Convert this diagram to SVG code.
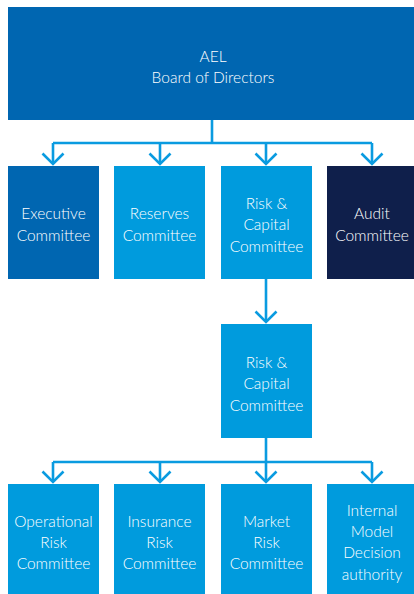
<svg xmlns="http://www.w3.org/2000/svg" width="414" height="594" viewBox="0 0 414 594">
  <defs>
    <style>
      .navy { fill: #0066b1; }
      .sky { fill: #009bdd; }
      .dark { fill: #0f1f4b; }
      .lbl { fill: #ffffff; font-family: Lato, "Open Sans", "Liberation Sans", sans-serif; font-weight: 300; font-size: 15.5px; text-anchor: middle; dominant-baseline: central; }
      .wire { fill: none; stroke: #0a9be0; stroke-width: 2.6; }
    </style>
    <!-- open chevron arrowhead; tip sits on the line end -->
    <marker id="chev" viewBox="0 0 14 24" refX="12" refY="12" markerWidth="14" markerHeight="24" markerUnits="userSpaceOnUse" orient="auto">
      <path d="M1.5 1.5 L12 12 L1.5 22.5" fill="none" stroke="#0a9be0" stroke-width="2.6"/>
    </marker>
  </defs>
  <rect width="414" height="594" fill="#ffffff"/>

  <g id="connectors">
    <path class="wire" d="M212 120 V143 M53 143 H372"/>
    <path class="wire" d="M53 143 V164" marker-end="url(#chev)"/>
    <path class="wire" d="M160 143 V164" marker-end="url(#chev)"/>
    <path class="wire" d="M266 143 V164" marker-end="url(#chev)"/>
    <path class="wire" d="M372 143 V164" marker-end="url(#chev)"/>
    <path class="wire" d="M266 279 V322" marker-end="url(#chev)"/>
    <path class="wire" d="M266 438 V462 M53 462 H372"/>
    <path class="wire" d="M53 462 V482" marker-end="url(#chev)"/>
    <path class="wire" d="M160 462 V482" marker-end="url(#chev)"/>
    <path class="wire" d="M266 462 V482" marker-end="url(#chev)"/>
    <path class="wire" d="M372 462 V482" marker-end="url(#chev)"/>
  </g>

  <g id="board">
    <rect class="navy" x="8" y="7" width="406" height="113"/>
    <text class="lbl" x="213" y="56">AEL</text>
    <text class="lbl" x="213" y="77">Board of Directors</text>
  </g>

  <g id="executive">
    <rect class="navy" x="8" y="166" width="91" height="113"/>
    <text class="lbl" x="53.5" y="213">Executive</text>
    <text class="lbl" x="53.5" y="235">Committee</text>
  </g>
  <g id="reserves">
    <rect class="sky" x="114" y="166" width="91" height="113"/>
    <text class="lbl" x="159.5" y="213">Reserves</text>
    <text class="lbl" x="159.5" y="235">Committee</text>
  </g>
  <g id="risk-capital-board">
    <rect class="sky" x="221" y="166" width="91" height="113"/>
    <text class="lbl" x="266.5" y="203">Risk &amp;</text>
    <text class="lbl" x="266.5" y="224">Capital</text>
    <text class="lbl" x="266.5" y="246">Committee</text>
  </g>
  <g id="audit">
    <rect class="dark" x="327" y="166" width="87" height="113"/>
    <text class="lbl" x="372" y="213">Audit</text>
    <text class="lbl" x="372" y="235">Committee</text>
  </g>

  <g id="risk-capital">
    <rect class="sky" x="221" y="324" width="91" height="114"/>
    <text class="lbl" x="266.5" y="362">Risk &amp;</text>
    <text class="lbl" x="266.5" y="383">Capital</text>
    <text class="lbl" x="266.5" y="405">Committee</text>
  </g>

  <g id="operational">
    <rect class="sky" x="8" y="484" width="91" height="110"/>
    <text class="lbl" x="53.5" y="521">Operational</text>
    <text class="lbl" x="53.5" y="542">Risk</text>
    <text class="lbl" x="53.5" y="563">Committee</text>
  </g>
  <g id="insurance">
    <rect class="sky" x="114" y="484" width="91" height="110"/>
    <text class="lbl" x="159.5" y="521">Insurance</text>
    <text class="lbl" x="159.5" y="542">Risk</text>
    <text class="lbl" x="159.5" y="563">Committee</text>
  </g>
  <g id="market">
    <rect class="sky" x="221" y="484" width="91" height="110"/>
    <text class="lbl" x="266.5" y="521">Market</text>
    <text class="lbl" x="266.5" y="542">Risk</text>
    <text class="lbl" x="266.5" y="563">Committee</text>
  </g>
  <g id="internal-model">
    <rect class="sky" x="327" y="484" width="87" height="110"/>
    <text class="lbl" x="372" y="510">Internal</text>
    <text class="lbl" x="372" y="531">Model</text>
    <text class="lbl" x="372" y="552">Decision</text>
    <text class="lbl" x="372" y="574">authority</text>
  </g>
</svg>
